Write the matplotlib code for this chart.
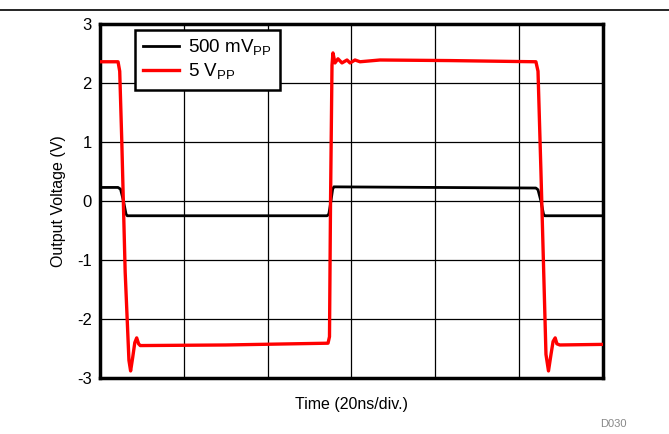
import numpy as np
import matplotlib.pyplot as plt

plt.rcParams['font.family'] = ['Liberation Sans', 'DejaVu Sans']
plt.rcParams['axes.unicode_minus'] = False

# time in ns (20 ns / div, 6 divisions)
t_small = [0, 4.3, 4.9, 5.6, 6.2, 6.5, 54.2, 54.6, 55.1, 55.5, 55.8, 104.0, 104.5, 105.2, 105.8, 106.1, 120]
v_small = [0.23, 0.23, 0.20, 0.0, -0.22, -0.25, -0.25, -0.22, 0.0, 0.20, 0.24, 0.22, 0.19, 0.0, -0.22, -0.25, -0.25]

t_large = [0, 4.3, 4.7, 5.2, 6.0, 6.9, 7.3, 7.8, 8.3, 8.75, 9.2, 9.6, 30.0, 54.4,
           54.75, 55.0, 55.35, 55.58, 56.06, 56.78, 57.73, 58.93, 59.65, 60.84, 62.03, 66.8, 83.5, 104.0,
           104.5, 105.2, 106.4, 107.0, 107.6, 108.1, 108.6, 109.0, 109.7, 120]
v_large = [2.36, 2.36, 2.2, 1.0, -1.2, -2.7, -2.88, -2.65, -2.4, -2.32, -2.42, -2.45, -2.44, -2.41,
           -2.3, 0.0, 2.3, 2.51, 2.34, 2.41, 2.34, 2.39, 2.34, 2.39, 2.36, 2.39, 2.38, 2.36,
           2.2, 0.5, -2.6, -2.88, -2.6, -2.38, -2.32, -2.42, -2.44, -2.43]

fig = plt.figure(figsize=(6.69, 4.34), dpi=100)
ax = fig.add_axes([0.1495, 0.129, 0.7518, 0.8157])

ax.plot(t_small, v_small, color='black', lw=2, label='500 mV$_{\\mathregular{PP}}$', zorder=3)
ax.plot(t_large, v_large, color='#ff0000', lw=2.4, label='5 V$_{\\mathregular{PP}}$', zorder=3)

ax.set_xlim(0, 120)
ax.set_ylim(-3, 3)
ax.set_xticks(np.arange(0, 121, 20))
ax.set_xticklabels([])
ax.set_yticks(range(-3, 4))
ax.tick_params(length=0, labelsize=12, pad=6)
ax.grid(True, color='black', lw=0.9)
for s in ax.spines.values():
    s.set_linewidth(2.5)

ax.set_xlabel('Time (20ns/div.)', fontsize=11.5, labelpad=8)
ax.set_ylabel('Output Voltage (V)', fontsize=11.5, labelpad=8)

leg = ax.legend(loc='upper left', bbox_to_anchor=(0.07, 0.983), borderaxespad=0,
                fontsize=13.5, fancybox=False, framealpha=1, edgecolor='black',
                handlelength=1.9, handletextpad=0.5, borderpad=0.42, labelspacing=0.2)
leg.get_frame().set_linewidth(1.8)

fig.add_artist(plt.Line2D([0, 1], [0.977, 0.977], color='black', lw=1.2))
fig.text(0.917, 0.015, 'D030', color='#888888', fontsize=8, ha='center')

fig.savefig('out.png', dpi=100)
